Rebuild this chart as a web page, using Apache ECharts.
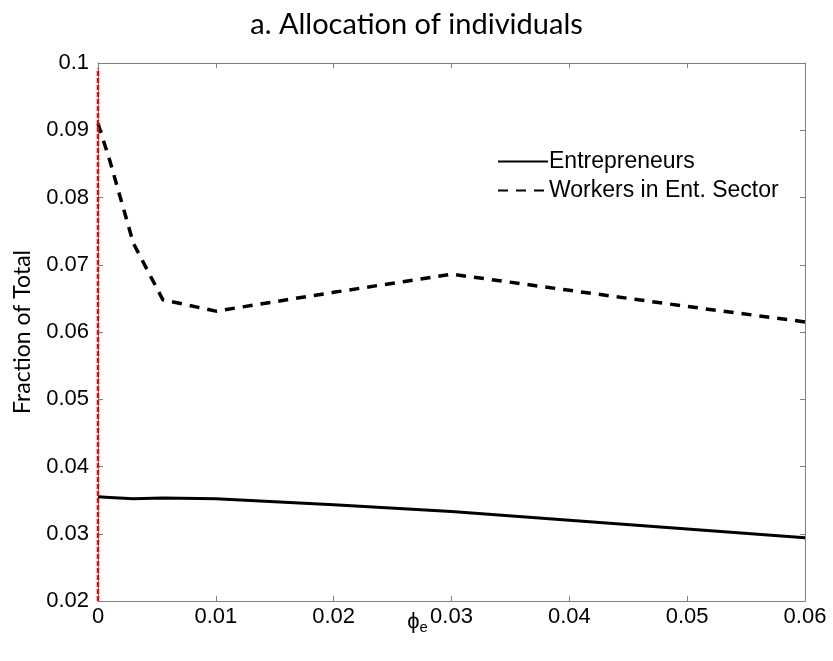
<!DOCTYPE html>
<html>
<head>
<meta charset="utf-8">
<script src="https://cdn.jsdelivr.net/npm/echarts@6/dist/echarts.min.js"></script>
<style>
  html, body { margin: 0; padding: 0; background: #fff; }
  #chart { width: 833px; height: 661px; }
</style>
</head>
<body>
<div id="chart"></div>
<script>
// phi_e grid and the two allocation shares
const phiE = [0, 0.001, 0.003, 0.0055, 0.01, 0.02, 0.03, 0.04, 0.05, 0.06];
const entrepreneurs = [0.0355, 0.0354, 0.0352, 0.0353, 0.0352, 0.0343, 0.0333, 0.0320, 0.0307, 0.0294];
const workersEnt = [0.0910, 0.0855, 0.0732, 0.0648, 0.0631, 0.0659, 0.0686, 0.0662, 0.0638, 0.0615];
// vertical reference at phi_e = 0
const refX = [0, 0];
const refY = [0.02, 0.0992];
const xTicks = ['0', '0.01', '0.02', '0.03', '0.04', '0.05', '0.06'];

const axisGray = '#7f7f7f';
const labelFont = 'Liberation Sans, Arial, sans-serif';

const chart = echarts.init(document.getElementById('chart'), null, { renderer: 'canvas' });

const boxAxis = {
  axisLine: { show: true, onZero: false, lineStyle: { color: axisGray, width: 1 } },
  axisTick: { show: true, inside: true, length: 5, lineStyle: { color: axisGray } },
  splitLine: { show: false }
};

chart.setOption({
  animation: false,
  backgroundColor: '#fff',
  title: {
    text: 'a. Allocation of individuals',
    left: 'center',
    top: 5,
    textStyle: { fontFamily: 'Lato, sans-serif', fontWeight: 'normal', fontSize: 29, color: '#000' }
  },
  grid: { left: 98, right: 28, top: 63, bottom: 60 },
  legend: {
    orient: 'vertical',
    left: 492,
    top: 145,
    itemWidth: 50,
    itemHeight: 12,
    itemGap: 6,
    itemStyle: { opacity: 0 },
    data: ['Entrepreneurs', 'Workers in Ent. Sector'],
    textStyle: { fontFamily: labelFont, fontSize: 23, color: '#000', padding: [0, 0, 0, -4] }
  },
  xAxis: [
    Object.assign({}, boxAxis, {
      type: 'value',
      min: 0, max: 0.06, interval: 0.01,
      position: 'bottom',
      name: '{p|ϕ}{s|e}',
      nameLocation: 'middle',
      nameGap: 7,
      nameMoveOverlap: false,
      nameTextStyle: {
        verticalAlign: 'top',
        padding: [0, 68, 0, 0],
        rich: {
          p: { fontFamily: labelFont, fontSize: 22, color: '#000' },
          s: { fontFamily: labelFont, fontSize: 15, color: '#000', verticalAlign: 'bottom', padding: [12, 0, 0, 0] }
        }
      },
      axisLabel: {
        fontFamily: labelFont, fontSize: 22, color: '#000', margin: 5,
        formatter: (v) => xTicks[Math.round(v / 0.01)]
      }
    }),
    Object.assign({}, boxAxis, {
      type: 'value',
      min: 0, max: 0.06, interval: 0.01,
      position: 'top',
      axisLabel: { show: false }
    })
  ],
  yAxis: [
    Object.assign({}, boxAxis, {
      type: 'value',
      min: 0.02, max: 0.1, interval: 0.01,
      position: 'left',
      name: 'Fraction of Total',
      nameLocation: 'middle',
      nameGap: 64,
      nameTextStyle: { fontFamily: 'Lato, sans-serif', fontSize: 23, color: '#000' },
      axisLabel: {
        fontFamily: labelFont, fontSize: 22, color: '#000', margin: 9,
        formatter: (v) => String(+v.toFixed(2))
      }
    }),
    Object.assign({}, boxAxis, {
      type: 'value',
      min: 0.02, max: 0.1, interval: 0.01,
      position: 'right',
      axisLabel: { show: false }
    })
  ],
  series: [
    {
      name: 'Entrepreneurs',
      type: 'line',
      data: phiE.map((x, i) => [x, entrepreneurs[i]]),
      symbol: 'none',
      lineStyle: { color: '#000', width: 3 },
      itemStyle: { color: '#000' },
      z: 3
    },
    {
      name: 'Workers in Ent. Sector',
      type: 'line',
      data: phiE.map((x, i) => [x, workersEnt[i]]),
      symbol: 'none',
      lineStyle: { color: '#000', width: 3.5, type: [10, 8] },
      itemStyle: { color: '#000' },
      z: 3
    },
    {
      name: 'ref',
      type: 'line',
      data: refX.map((x, i) => [x, refY[i]]),
      symbol: 'none',
      lineStyle: { color: '#ff0000', width: 2.5, type: [5, 2] },
      z: 4,
      silent: true
    }
  ]
});
</script>
</body>
</html>
